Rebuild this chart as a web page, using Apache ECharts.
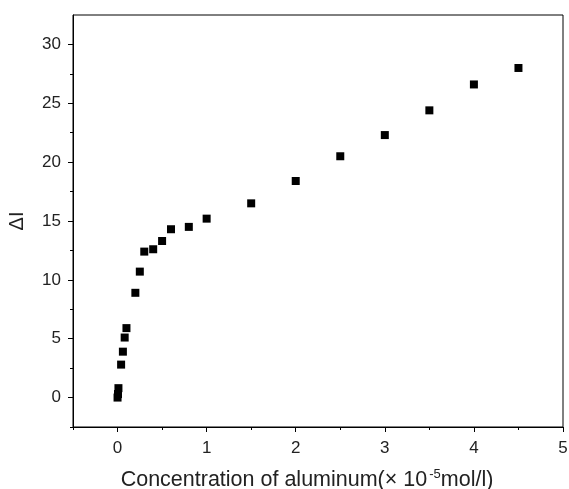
<!DOCTYPE html>
<html><head><meta charset="utf-8">
<script src="https://cdn.jsdelivr.net/npm/echarts@6/dist/echarts.min.js"></script>
<style>html,body{margin:0;padding:0;background:#fff}#c{width:569px;height:489px}</style>
</head><body><div id="c"></div>
<script>
const concentration = [0, 0.005, 0.01, 0.04, 0.06, 0.08, 0.1, 0.2, 0.25, 0.3, 0.4, 0.5, 0.6, 0.8, 1, 1.5, 2, 2.5, 3, 3.5, 4, 4.5];
const deltaI = [0, 0.3, 0.8, 2.8, 3.9, 5.1, 5.9, 8.9, 10.7, 12.4, 12.6, 13.3, 14.3, 14.5, 15.2, 16.5, 18.4, 20.5, 22.3, 24.4, 26.6, 28.0];
const xMajorTicks = [0, 1, 2, 3, 4, 5];
const xMinorTicks = [-0.5, 0.5, 1.5, 2.5, 3.5, 4.5];
const yMajorTicks = [0, 5, 10, 15, 20, 25, 30];
const yMinorTicks = [-2.5, 2.5, 7.5, 12.5, 17.5, 22.5, 27.5];

const chart = echarts.init(document.getElementById('c'));
const font = 'Liberation Sans, Arial, sans-serif';
const X_MIN = -0.5, X_MAX = 5, Y_MIN = -2.5, Y_MAX = 32.5;

function tickAxis(type, ticks, len) {
  return {
    type: 'value', min: type === 'x' ? X_MIN : Y_MIN, max: type === 'x' ? X_MAX : Y_MAX,
    position: type === 'x' ? 'bottom' : 'left',
    splitLine: {show: false},
    axisLine: {show: false, onZero: false},
    axisTick: {show: true, customValues: ticks, length: len, lineStyle: {color: '#000', width: 1}},
    axisLabel: {show: false}
  };
}

chart.setOption({
  animation: false,
  backgroundColor: '#fff',
  grid: {left: 73, right: 6, top: 15, bottom: 62, show: true, borderColor: '#000', borderWidth: 1,
         backgroundColor: 'transparent', containLabel: false, outerBoundsMode: 'none'},
  xAxis: [
    {type: 'value', min: X_MIN, max: X_MAX, position: 'bottom',
     splitLine: {show: false},
     axisLine: {show: true, onZero: false, lineStyle: {color: '#000'}},
     axisTick: {show: false},
     axisLabel: {customValues: xMajorTicks, color: '#222', fontSize: 17, fontFamily: font, margin: 13},
     name: '{a|Concentration of aluminum(× 10}{s|-5}{a|mol/l)}',
     nameLocation: 'middle', nameGap: 41,
     nameTextStyle: {padding: [0, 22, 0, 0], rich: {a: {fontSize: 21.5, fontFamily: font, color: '#222'}, s: {fontSize: 13, fontFamily: font, color: '#222', verticalAlign: 'top', padding: [0,0,12,2]}}}
    },
    tickAxis('x', xMajorTicks, 5),
    tickAxis('x', xMinorTicks, 3)
  ],
  yAxis: [
    {type: 'value', min: Y_MIN, max: Y_MAX, position: 'left',
     splitLine: {show: false},
     axisLine: {show: true, onZero: false, lineStyle: {color: '#000'}},
     axisTick: {show: false},
     axisLabel: {customValues: yMajorTicks, color: '#222', fontSize: 17, fontFamily: font, margin: 12},
     name: 'ΔI', nameLocation: 'middle', nameGap: 46, nameRotate: 90,
     nameTextStyle: {fontSize: 20, fontFamily: font, color: '#222'}
    },
    tickAxis('y', yMajorTicks, 5),
    tickAxis('y', yMinorTicks, 3)
  ],
  series: [{
    type: 'scatter', xAxisIndex: 0, yAxisIndex: 0,
    symbol: 'rect', symbolSize: 8,
    itemStyle: {color: '#000', opacity: 1},
    data: concentration.map((x, i) => [x, deltaI[i]])
  }]
});
</script></body></html>
